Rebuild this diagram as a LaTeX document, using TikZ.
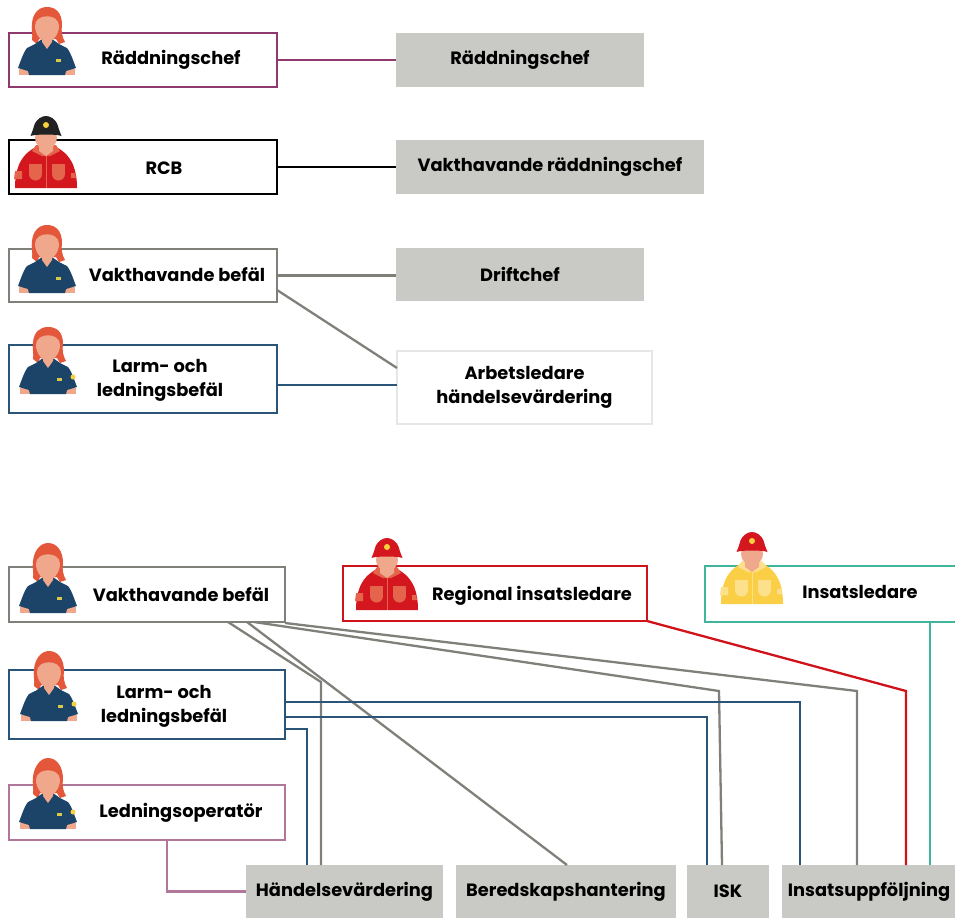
\documentclass[tikz,border=0pt]{standalone}
\usepackage{fontspec}
\setmainfont{Poppins}
\definecolor{cplum}{HTML}{8E3A6E}
\definecolor{cgrey}{HTML}{80807A}
\definecolor{cblue}{HTML}{2A5578}
\definecolor{cred}{HTML}{D0121B}
\definecolor{cteal}{HTML}{3FB59B}
\definecolor{cmauve}{HTML}{B0779B}
\definecolor{cfill}{HTML}{C9C9C5}
\definecolor{cpale}{HTML}{E6E6E4}
\definecolor{skin}{HTML}{EFA88C}
\definecolor{hairc}{HTML}{E4573A}
\definecolor{shirt}{HTML}{1C4468}
\definecolor{badge}{HTML}{D8C94A}
\definecolor{patch}{HTML}{F6D13C}
\definecolor{jred}{HTML}{D4171F}
\definecolor{jredl}{HTML}{E4644C}
\definecolor{jyel}{HTML}{FBCF45}
\definecolor{jyell}{HTML}{FCE08C}
\definecolor{hblack}{HTML}{222222}
\tikzset{
  x=1pt,y=-1pt,
  frame/.style={draw=#1,line width=2.3pt,fill=white,inner sep=0pt,outer sep=0pt},
  greybox/.style={fill=cfill,inner sep=0pt,outer sep=0pt,font=\lbl,text=black},
  txt/.style={font=\lbl,text=black,align=center,inner sep=0pt},
  wire/.style={draw=#1,line width=2.3pt,line join=miter},
  pics/woman/.style n args={2}{code={
    \fill[skin] (-28,-6) rectangle (-18,0);
    \fill[skin] (18,-6) rectangle (28,0);
    \fill[hairc] (-15,-35) .. controls (-14,-40) and (-16,-46) .. (-15,-52)
      .. controls (-14,-62) and (-8,-#1) .. (0,-#1)
      .. controls (9,-#1) and (15,-62) .. (15,-50)
      .. controls (14,-44) and (15,-38) .. (18,-33) -- (12,-31) -- (9,-36) -- (-8,-36) -- (-10,-31) -- cycle;
    \fill[shirt] (-12,-31) -- (-5,-36) -- (5,-36) -- (12,-31) -- (20,-27)
      .. controls (24,-22) and (27,-12) .. (29,-7) -- (19,-4) -- (18,0) -- (-18,0) -- (-19,-4) -- (-29,-7)
      .. controls (-27,-12) and (-24,-22) .. (-20,-27) -- cycle;
    \fill[skin] (-5,-40) -- (-5,-33) -- (0,-26) -- (5,-33) -- (5,-40) -- cycle;
    \fill[skin] (-12,-49) .. controls (-12,-62) and (12,-62) .. (12,-49)
      .. controls (12,-40) and (5,-33) .. (0,-33)
      .. controls (-5,-33) and (-12,-40) .. (-12,-49) -- cycle;
    \fill[badge] (9,-16) rectangle (14,-13);
    \ifnum#2=1 \fill[patch] (25,-17) circle (2.5); \fi
  }},
  pics/fire/.style n args={3}{code={
    \fill[#1] (-31,0) .. controls (-31,-15) and (-28,-32) .. (-10,-41) -- (10,-41)
      .. controls (28,-32) and (31,-15) .. (31,0) -- cycle;
    \fill[#2] (-10,-43) -- (10,-43) -- (14,-37) -- (4,-32) -- (-4,-32) -- (-14,-37) -- cycle;
    \fill[#2] (-17,-24) rectangle (-4,-14);
    \fill[#2] (-10.5,-14) circle (6.5);
    \fill[#2] (6,-24) rectangle (19,-14);
    \fill[#2] (12.5,-14) circle (6.5);
    \fill[#2] (-31,-17) -- (-24,-17) -- (-24,-9) -- (-32,-9) -- cycle;
    \fill[#2] (25,-15) -- (29,-15) -- (30,-10) -- (25,-10) -- cycle;
    \draw[#2,line width=.7pt] (0,-32) -- (0,0);
    \fill[skin] (-7,-50) -- (-7,-37) -- (0,-32) -- (7,-37) -- (7,-50) -- cycle;
    \fill[skin] (0,-50) ellipse [x radius=11,y radius=11];
    \fill[#3] (-15.5,-52) .. controls (-11,-54) and (11,-54) .. (15.5,-52)
      .. controls (14,-56) and (13,-58) .. (12,-62)
      .. controls (10,-69) and (4,-72) .. (0,-72)
      .. controls (-4,-72) and (-10,-69) .. (-12,-62)
      .. controls (-13,-58) and (-14,-56) .. (-15.5,-52) -- cycle;
    \fill[patch] (0,-63) circle (3);
  }}
}
\newcommand\lbl{\fontsize{17.8}{24}\selectfont\bfseries}
\begin{document}
\begin{tikzpicture}
\useasboundingbox (0,0) rectangle (955,918);
% --- upper part
\node[frame=cplum,minimum width=268pt,minimum height=54pt] (rc) at (143,60) {};
\node[greybox,minimum width=248pt,minimum height=54pt] (rcR) at (520,60) {Räddningschef};
\node[frame=black,minimum width=268pt,minimum height=54pt] (rcb) at (143,167) {};
\node[greybox,minimum width=308pt,minimum height=54pt] (rcbR) at (550,167) {Vakthavande räddningschef};
\node[frame=cgrey,minimum width=268pt,minimum height=53pt] (vb) at (143,275.5) {};
\node[greybox,minimum width=248pt,minimum height=53pt] (dc) at (520,274.5) {Driftchef};
\node[frame=cblue,minimum width=268pt,minimum height=68pt] (lb) at (143,379) {};
\node[draw=cpale,line width=2pt,fill=white,font=\lbl,align=center,inner sep=0pt,outer sep=0pt,minimum width=255pt,minimum height=73pt] (ab) at (524.5,387.5) {Arbetsledare\\händelsevärdering};
\node[txt] (t1) at (171,60) {Räddningschef};
\node[txt] (t2) at (164,168) {RCB};
\node[txt] (t3) at (177,275) {Vakthavande befäl};
\node[txt] (t4) at (160,380) {Larm- och\\ledningsbefäl};
\draw[wire=cplum] (rc.east) -- (rcR.west);
\draw[wire=black] (rcb.east) -- (rcbR.west);
\draw[wire=cgrey] (vb.east) -- (vb.east -| dc.west);
\draw[wire=cgrey] ([yshift=-14.5pt]vb.east) -- ([yshift=19.5pt]ab.west);
\draw[wire=cblue] ([yshift=2.5pt]ab.west -| lb.east) -- ([yshift=2.5pt]ab.west);
\pic at (47,75) {woman={68}{0}};
\pic at (46,188) {fire={jred}{jredl}{hblack}};
\pic at (47,293) {woman={68}{0}};
\pic at (48,394) {woman={67}{1}};
% --- lower part
\node[frame=cgrey,minimum width=276pt,minimum height=55pt] (vb2) at (147,594.5) {};
\node[frame=cblue,minimum width=276pt,minimum height=69pt] (lb2) at (147,704.5) {};
\node[frame=cmauve,minimum width=276pt,minimum height=55pt] (lo) at (147,812.5) {};
\node[frame=cred,minimum width=304pt,minimum height=55pt] (ri) at (495,593.5) {};
\node[frame=cteal,minimum width=270pt,minimum height=56pt] (il) at (840,594) {};
\node[txt] (t5) at (181,595) {Vakthavande befäl};
\node[txt] (t6) at (164,706) {Larm- och\\ledningsbefäl};
\node[txt] (t7) at (181,813) {Ledningsoperatör};
\node[txt] (t8) at (532,596) {Regional insatsledare};
\node[txt] (t9) at (860,592) {Insatsledare};
\node[greybox,minimum width=197pt,minimum height=53pt] (ev) at (344.5,891.5) {Händelsevärdering};
\node[greybox,minimum width=220pt,minimum height=53pt] (bh) at (566,891.5) {Beredskapshantering};
\node[greybox,minimum width=82pt,minimum height=53pt] (isk) at (728,891.5) {ISK};
\node[greybox,minimum width=175pt,minimum height=53pt] (iu) at (869,891.5) {Insatsuppföljning};
\coordinate (g1) at (321,682);
\coordinate (g3) at (719,691);
\coordinate (g4) at (857,691);
\coordinate (r1) at (906,691);
\draw[wire=cgrey] ([xshift=219pt]vb2.south west) -- (g1) -- (g1 |- ev.north);
\draw[wire=cgrey] ([xshift=238pt]vb2.south west) -- ([xshift=1pt]bh.north);
\draw[wire=cgrey] ([xshift=245pt]vb2.south west) -- (g3) -- ([xshift=-6pt]isk.north);
\draw[wire=cgrey] ([yshift=-1pt]vb2.south east) -- (g4) -- (g4 |- iu.north);
\draw[wire=cred] (ri.south east) -- (r1) -- (r1 |- iu.north);
\coordinate (b1) at (800,702);
\coordinate (b2) at (707,717);
\coordinate (b3) at (307,729);
\draw[wire=cblue] (b1 -| lb2.east) -- (b1) -- (b1 |- iu.north);
\draw[wire=cblue] (b2 -| lb2.east) -- (b2) -- (b2 |- isk.north);
\draw[wire=cblue] (b3 -| lb2.east) -- (b3) -- (b3 |- ev.north);
\coordinate (te) at (930,640);
\draw[wire=cteal] (te |- il.south) -- (te |- iu.north);
\draw[wire=cmauve] ([xshift=158pt]lo.south west) |- (ev.west);
\pic at (48,613) {woman={70}{0}};
\pic at (49,721) {woman={70}{1}};
\pic at (48,829) {woman={71}{1}};
\pic at (387,610) {fire={jred}{jredl}{jred}};
\pic at (752,604) {fire={jyel}{jyell}{jred}};
\end{tikzpicture}
\end{document}
